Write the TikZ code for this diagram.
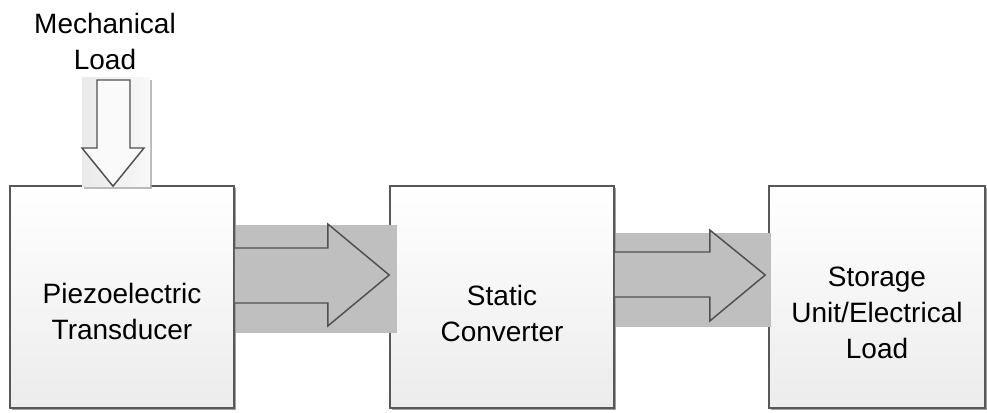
\documentclass[tikz,border=0pt]{standalone}
\usepackage{fontspec}
\setmainfont{Liberation Sans}
\usetikzlibrary{calc,shadows}

\tikzset{every picture/.style={line width=0.75pt}}
\tikzset{
  blockbox/.style={draw={rgb, 255:red, 88; green, 88; blue, 88 }, line width=1.2pt, inner sep=0pt,
    top color=white, bottom color={rgb, 255:red, 236; green, 236; blue, 236 },
    drop shadow={shadow xshift=1.6pt, shadow yshift=-1.6pt, fill={rgb, 255:red, 120; green, 120; blue, 120 }, opacity=0.7}},
  blocktext/.style={align=center, inner sep=0.75pt, font=\fontsize{21}{27}\selectfont},
  fatarrow/.style={draw={rgb, 255:red, 80; green, 80; blue, 80 }, line width=1.1pt, line join=miter},
}

\begin{document}
\begin{tikzpicture}[x=0.75pt,y=0.75pt,yscale=-1,xscale=1]
\useasboundingbox (0,0) rectangle (987,413);

%Shape: Rectangle
\node[blockbox, minimum width=168pt, minimum height=166.5pt] (pt) at (122,297) {};
%Shape: Rectangle
\node[blockbox, minimum width=168pt, minimum height=166.5pt] (sc) at (502,297) {};
%Shape: Rectangle
\node[blockbox, minimum width=162pt, minimum height=166.5pt] (su) at (877,297) {};

%Shape: Right Arrow
\fill [color={rgb, 255:red, 191; green, 191; blue, 191 }] ($(pt.east)+(1,-72)$) rectangle ($(sc.west)+(8,36)$);
\draw [fatarrow, fill={rgb, 255:red, 191; green, 191; blue, 191 }] ($(pt.east)+(0,-49)$) -- ++(93,0) -- ++(0,-24) -- ($(sc.west)+(0,-22)$) -- ($(pt.east)+(93,29)$) -- ++(0,-23) -- ($(pt.east)+(0,6)$) ;
%Shape: Right Arrow
\fill [color={rgb, 255:red, 191; green, 191; blue, 191 }] ($(sc.east)+(1,-64)$) rectangle ($(su.west)+(3,30)$);
\draw [fatarrow, fill={rgb, 255:red, 191; green, 191; blue, 191 }] ($(sc.east)+(0,-45)$) -- ++(95,0) -- ++(0,-22) -- ($(su.west)+(-3,-22)$) -- ($(sc.east)+(95,24)$) -- ++(0,-24) -- ($(sc.east)+(0,0)$) ;

%Shape: Down Arrow
\coordinate (mltop) at (113,80);
\fill [left color={rgb, 255:red, 234; green, 234; blue, 234 }, right color={rgb, 255:red, 248; green, 248; blue, 248 },
  drop shadow={shadow xshift=1.6pt, shadow yshift=-1.6pt, fill={rgb, 255:red, 170; green, 170; blue, 170 }, opacity=0.8}]
  ($(mltop)+(-31,-2)$) rectangle ($(mltop)+(37,107)$);
\draw [fatarrow, fill={rgb, 255:red, 250; green, 250; blue, 250 }] ($(mltop)+(-16,0)$) -- ++(33,0) -- ++(0,68) -- ++(14,0) -- ($(pt.north)+(-9,1)$) -- ($(mltop)+(-31,68)$) -- ++(15,0) -- cycle ;

% Text Node
\node[blocktext] (mllbl) at (105,41) {Mechanical\\Load};
% Text Node
\node[blocktext] (ptlbl) at ($(pt.center)+(0,14)$) {Piezoelectric\\Transducer};
% Text Node
\node[blocktext] (sclbl) at ($(sc.center)+(0,16)$) {Static\\Converter};
% Text Node
\node[blocktext] (sulbl) at ($(su.center)+(0,16)$) {Storage\\Unit/Electrical\\Load};

\end{tikzpicture}
\end{document}
